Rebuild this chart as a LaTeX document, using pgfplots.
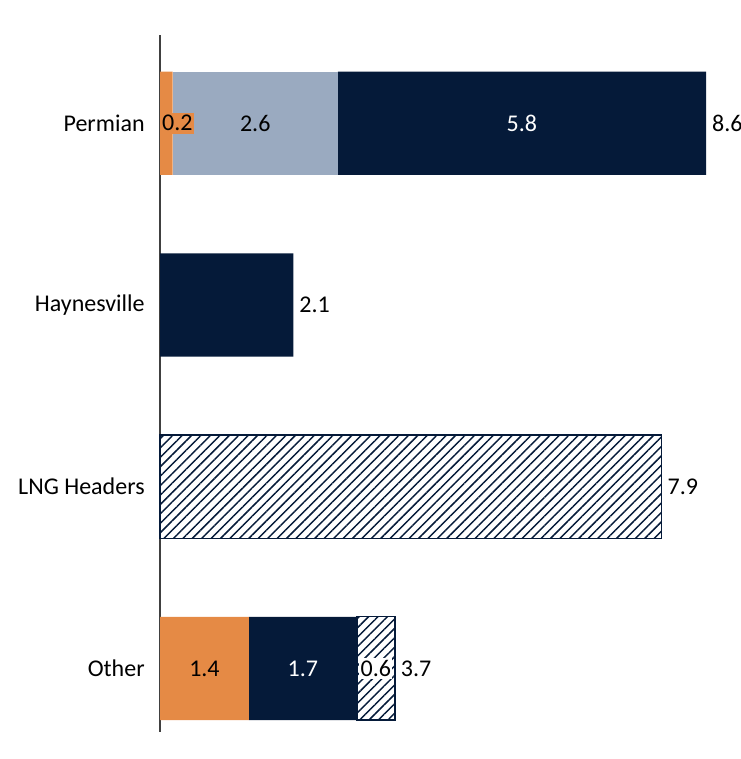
\documentclass[border=0pt]{standalone}
\usepackage{pgfplots}
\pgfplotsset{compat=1.18}
\usepackage{fontspec}
\setmainfont{Carlito}
\usetikzlibrary{patterns.meta}
\definecolor{corange}{HTML}{E58A45}
\definecolor{clight}{HTML}{9AAAC0}
\definecolor{cnavy}{HTML}{051A39}
\definecolor{caxis}{HTML}{404040}
\tikzset{vl/.style={font=\fontsize{18}{21}\selectfont}}
\begin{document}
\begin{tikzpicture}[x=1pt,y=1pt]
\useasboundingbox (0,0) rectangle (555.75,569.25);
\begin{axis}[
  at={(120pt,20.25pt)}, anchor=south west,
  scale only axis, width=435.75pt, height=522.75pt,
  xbar stacked, bar width=0.568,
  xmin=0, xmax=9.15, ymin=-0.35, ymax=3.485,
  axis x line=none,
  axis y line*=left,
  y axis line style={draw=caxis, line width=1.1pt, -},
  ytick={0,1,2,3},
  yticklabels={Other,LNG Headers,Haynesville,Permian},
  major tick length=0pt,
  yticklabel style={font=\fontsize{18}{21}\selectfont, text=black, xshift=-8pt},
  clip=false,
]
\addplot[fill=corange, draw=none] coordinates {(1.4,0) (0,1) (0,2) (0.2,3)};
\addplot[fill=clight, draw=none] coordinates {(0,0) (0,1) (0,2) (2.6,3)};
\addplot[fill=cnavy, draw=none] coordinates {(1.7,0) (0,1) (2.1,2) (5.8,3)};
\addplot[draw=cnavy, line width=1pt, fill=white,
  postaction={pattern={Lines[angle=45,distance=5pt,line width=1.1pt]}, pattern color=cnavy}]
  coordinates {(0.6,0) (7.9,1)};
\coordinate (a) at (axis cs:0.01,3);
\coordinate (b) at (axis cs:1.5,3);
\coordinate (c) at (axis cs:5.7,3);
\coordinate (d) at (axis cs:8.6,3);
\coordinate (e) at (axis cs:2.1,2);
\coordinate (f) at (axis cs:7.9,1);
\coordinate (g) at (axis cs:0.7,0);
\coordinate (h) at (axis cs:2.25,0);
\coordinate (i) at (axis cs:3.4,0);
\coordinate (j) at (axis cs:3.7,0);
\end{axis}
\node[vl, anchor=west, fill=corange, inner xsep=1pt, inner ysep=2pt] at (a) {0.2};
\node[vl] at (b) {2.6};
\node[vl, text=white] at (c) {5.8};
\node[vl, anchor=west, xshift=1pt] at (d) {8.6};
\node[vl, anchor=west, xshift=1pt] at (e) {2.1};
\node[vl, anchor=west, xshift=1pt] at (f) {7.9};
\node[vl] at (g) {1.4};
\node[vl, text=white] at (h) {1.7};
\node[vl, fill=white, inner xsep=1pt, inner ysep=2pt] at (i) {0.6};
\node[vl, anchor=west, xshift=1pt] at (j) {3.7};
\end{tikzpicture}
\end{document}
